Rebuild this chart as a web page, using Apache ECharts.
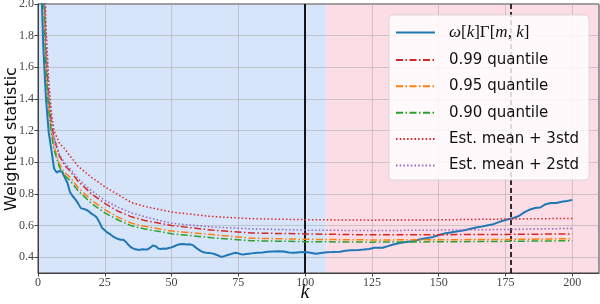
<!DOCTYPE html>
<html><head><meta charset="utf-8">
<script src="https://cdn.jsdelivr.net/npm/echarts@6/dist/echarts.min.js"></script>
<style>html,body{margin:0;padding:0;background:#fff}#c{width:600px;height:304px}</style>
</head><body><div id="c"></div>
<script>
// ---- data ----
const blueK = [1,2,3,4,5,6,7,8,9,10,11,12,13,14,15,16,17,18,19,20,21,22,23,24,25,26,27,28,29,30,31,32,33,34,35,36,37,38,39,40,41,42,43,44,45,46,47,48,49,50,51,52,53,54,55,56,57,58,59,60,61,62,63,64,65,66,67,68,69,70,71,72,73,74,75,76,77,78,79,80,82,84,86,88,90,92,94,96,98,100,102,104,106,108,110,113,115,117,120,122,124,126,129,131,133,135,137,140,142,144,146,148,150,152,154,156,158,160,162,164,166,168,170,172,174,176,178,180,182,184,186,188,190,192,194,196,198,200];
const blueVals = [2.25,1.72,1.40,1.19,1.08,0.96,0.935,0.945,0.94,0.905,0.87,0.81,0.785,0.765,0.74,0.71,0.705,0.70,0.69,0.675,0.665,0.65,0.62,0.585,0.57,0.555,0.545,0.532,0.522,0.515,0.51,0.51,0.495,0.475,0.46,0.452,0.448,0.446,0.45,0.448,0.449,0.46,0.474,0.47,0.455,0.452,0.455,0.453,0.458,0.462,0.469,0.476,0.482,0.484,0.482,0.48,0.481,0.476,0.462,0.449,0.438,0.431,0.428,0.426,0.424,0.42,0.414,0.406,0.402,0.408,0.414,0.418,0.424,0.428,0.424,0.419,0.417,0.42,0.422,0.424,0.428,0.43,0.434,0.436,0.438,0.436,0.43,0.428,0.431,0.432,0.428,0.421,0.426,0.431,0.432,0.434,0.44,0.444,0.446,0.448,0.452,0.459,0.46,0.47,0.48,0.488,0.494,0.5,0.508,0.516,0.522,0.528,0.54,0.549,0.555,0.56,0.566,0.572,0.58,0.587,0.593,0.6,0.606,0.618,0.63,0.64,0.648,0.66,0.683,0.7,0.711,0.714,0.735,0.742,0.742,0.75,0.755,0.762];
const thrK = [1,2,3,4,5,6,8,10,12,15,20,25,30,35,40,50,65,80,100,125,150,175,200];
const q99 = [4.2,2.3,1.7,1.42,1.25,1.15,1.04,0.98,0.945,0.88,0.80,0.74,0.69,0.655,0.632,0.60,0.571,0.553,0.547,0.541,0.542,0.544,0.547];
const q95 = [3.9,2.15,1.6,1.35,1.2,1.1,0.99,0.935,0.905,0.84,0.76,0.70,0.652,0.615,0.595,0.565,0.543,0.52,0.513,0.509,0.51,0.512,0.517];
const q90 = [3.8,2.1,1.57,1.33,1.18,1.08,0.97,0.915,0.885,0.82,0.74,0.68,0.635,0.598,0.578,0.548,0.523,0.504,0.498,0.495,0.497,0.5,0.504];
const std3 = [5.0,2.6,1.86,1.52,1.32,1.2,1.12,1.085,1.04,0.975,0.905,0.845,0.795,0.745,0.72,0.685,0.657,0.643,0.637,0.634,0.636,0.641,0.645];
const std2 = [4.3,2.35,1.72,1.44,1.27,1.16,1.05,0.995,0.96,0.895,0.82,0.76,0.715,0.68,0.655,0.614,0.591,0.579,0.571,0.568,0.571,0.575,0.582];
const seriesNames = ['ω[k]Γ[m, k]','0.99 quantile','0.95 quantile','0.90 quantile','Est. mean + 3std','Est. mean + 2std'];
const xTicks = [0,25,50,75,100,125,150,175,200];
const yTicks = [0.4,0.6,0.8,1.0,1.2,1.4,1.6,1.8,2.0];
const xTitle = 'k';
const yTitle = 'Weighted statistic';
const spanBlue = [0,108];
const spanPink = [108,210];
const vSolid = 100;
const vDashed = 177;

const zip = (a,b) => a.map((v,i)=>[v,b[i]]);
const dashDot = [7,2.5,1.5,2.5];
const dotted = [1.5,2.2];
function thr(name, vals, color, type, w){
  return {name, type:'line', data: zip(thrK, vals), symbol:'none', showSymbol:false,
    lineStyle:{color, type, width:w}, itemStyle:{color}, z:3};
}
const chart = echarts.init(document.getElementById('c'), null, {renderer:'canvas'});
const axisCol = '#404040';
const gridCol = 'rgba(170,170,170,0.55)';
const serif = 'Liberation Serif';
chart.setOption({
  animation:false,
  grid:{left:38, right:1, top:4, bottom:31, containLabel:false, outerBoundsMode:'none',
    show:true, borderColor:axisCol, borderWidth:1},
  graphic:[
    {type:'text', x:12, y:139, rotation:Math.PI/2,
      style:{text:yTitle, font:'16px "DejaVu Sans"', fill:'#111', align:'center', verticalAlign:'middle'}},
    {type:'text', x:305, y:293,
      style:{text:xTitle, font:'italic 20px "Liberation Serif"', fill:'#111', align:'center', verticalAlign:'middle'}}
  ],
  xAxis:{type:'value', min:0, max:210,
    axisLine:{show:true, lineStyle:{color:axisCol}},
    axisTick:{show:true, length:3.5, customValues:xTicks, lineStyle:{color:axisCol}},
    axisLabel:{customValues:xTicks, margin:4, fontFamily:serif, fontSize:12, color:'#444'},
    splitLine:{show:true, customValues:xTicks, lineStyle:{color:gridCol, width:1}}},
  yAxis:{type:'value', min:0.3, max:2.0,
    axisLine:{show:true, lineStyle:{color:axisCol}},
    axisTick:{show:true, length:3.5, customValues:yTicks, lineStyle:{color:axisCol}},
    axisLabel:{customValues:yTicks, margin:4, fontFamily:serif, fontSize:12, color:'#444',
      formatter:v=>Number(v).toFixed(1)},
    splitLine:{show:true, customValues:yTicks, lineStyle:{color:gridCol, width:1}}},
  legend:{orient:'vertical', left:389, top:15, padding:[9,10,7,6], itemGap:11.4,
    itemWidth:39, itemHeight:14, itemStyle:{opacity:0, borderWidth:0},
    backgroundColor:'rgba(255,255,255,0.82)', borderColor:'rgba(210,210,210,0.8)', borderWidth:1, borderRadius:4,
    data: seriesNames,
    textStyle:{fontFamily:'DejaVu Sans', fontSize:15, color:'#111', padding:[0,0,0,9],
      rich:{i:{fontFamily:serif, fontStyle:'italic', fontSize:17, color:'#111'},
            r:{fontFamily:serif, fontSize:17, color:'#111'}}},
    formatter: n => n === seriesNames[0] ? '{r|}{i|ω}{r|[}{i|k}{r|]Γ[}{i|m}{r|, }{i|k}{r|]}' : n},
  series:[
    {name:seriesNames[0], type:'line', data: zip(blueK, blueVals), symbol:'none', showSymbol:false,
      lineStyle:{color:'#1f77b4', width:2}, itemStyle:{color:'#1f77b4'}, z:2,
      markArea:{silent:true, z:-1, data:[
        [{xAxis:spanBlue[0], itemStyle:{color:'#d7e5fb'}},{xAxis:spanBlue[1]}],
        [{xAxis:spanPink[0], itemStyle:{color:'#fcdce5'}},{xAxis:spanPink[1]}]]},
      markLine:{silent:true, symbol:'none', label:{show:false}, z:1, data:[
        {xAxis:vSolid, lineStyle:{color:'#000', type:'solid', width:1.8}},
        {xAxis:vDashed, lineStyle:{color:'#000', type:[5,3], width:1.6}}]}},
    thr(seriesNames[1], q99, '#d62728', dashDot, 1.5),
    thr(seriesNames[2], q95, '#ff7f0e', dashDot, 1.5),
    thr(seriesNames[3], q90, '#2ca02c', dashDot, 1.5),
    thr(seriesNames[4], std3, '#d62728', dotted, 1.5),
    thr(seriesNames[5], std2, '#9467bd', dotted, 1.5)
  ]
});
</script></body></html>
